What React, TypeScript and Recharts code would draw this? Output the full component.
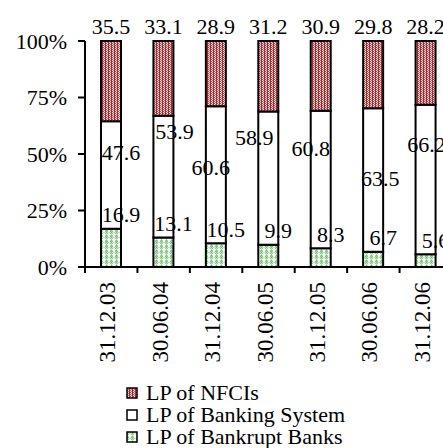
import { Bar, BarChart, LabelList, XAxis, YAxis } from "recharts";

const periods = ["31.12.03", "30.06.04", "31.12.04", "30.06.05", "31.12.05", "30.06.06", "31.12.06"];
const bankrupt = [16.9, 13.1, 10.5, 9.9, 8.3, 6.7, 5.6];
const banking = [47.6, 53.9, 60.6, 58.9, 60.8, 63.5, 66.2];
const nfci = [35.5, 33.1, 28.9, 31.2, 30.9, 29.8, 28.2];
const yTicks = [0, 0.25, 0.5, 0.75, 1];

// hand placed label nudges for the middle series, as in the source chart
const bankingShiftX = [0, 1, -15, -24, -20, -3, -9];
const bankingShiftY = [-23, -45, -7, -41, -31, -2, -35];

const data = periods.map((p, i) => ({
  period: p,
  bankrupt: bankrupt[i],
  banking: banking[i],
  nfci: nfci[i]
}));

const FONT = '"Liberation Serif", "Times New Roman", serif';
const CHART_W = 452;
const CHART_H = 448;
const LEFT = 85;
const BAND = (CHART_W - LEFT) / periods.length;

const fmt = (v: number) => v.toFixed(1);

function PeriodTick(props: any) {
  const { x, y, payload } = props;
  const tx = x + 4;
  const ty = y + 15;
  return (
    <g>
      <line x1={x - BAND / 2} y1={y} x2={x - BAND / 2} y2={y + 6} stroke="#000" strokeWidth={2} />
      <text
        x={tx}
        y={ty}
        transform={`rotate(-90, ${tx}, ${ty})`}
        textAnchor="end"
        fontSize={23}
        fontFamily={FONT}
        fill="#000"
      >
        {payload.value}
      </text>
    </g>
  );
}

function Swatch({ fill }: { fill: string }) {
  return (
    <svg width={12} height={12} style={{ display: "block" }}>
      <rect x={1} y={1} width={10} height={10} fill={fill} stroke="#000" strokeWidth={1.5} />
    </svg>
  );
}

const legendItems = [
  { name: "LP of NFCIs", fill: "url(#nfciPat)" },
  { name: "LP of Banking System", fill: "#fff" },
  { name: "LP of Bankrupt Banks", fill: "url(#bankPat)" }
];

export default function App() {
  return (
    <div
      style={{
        position: "absolute",
        left: 0,
        top: 0,
        width: 443,
        height: 448,
        overflow: "hidden",
        background: "#fff",
        fontFamily: FONT
      }}
    >
      <BarChart
        width={CHART_W}
        height={CHART_H}
        data={data}
        stackOffset="expand"
        margin={{ top: 41, right: 0, left: 0, bottom: 0 }}
      >
        <defs>
          <pattern id="nfciPat" width={3} height={2} patternUnits="userSpaceOnUse">
            <rect width={3} height={2} fill="#f2dede" />
            <rect x={0} y={0} width={1} height={2} fill="#9e2a2e" />
            <rect x={1} y={1} width={1} height={1} fill="#b03e44" />
            <rect x={2} y={0} width={1} height={1} fill="#c86a70" />
          </pattern>
          <pattern id="bankPat" width={5} height={5} patternUnits="userSpaceOnUse">
            <rect width={5} height={5} fill="#fff" />
            <circle cx={1.5} cy={1.2} r={0.9} fill="none" stroke="#239a23" strokeWidth={0.8} />
            <circle cx={1.5} cy={3.3} r={0.9} fill="none" stroke="#3cb03c" strokeWidth={0.8} />
            <circle cx={4} cy={2.3} r={0.6} fill="#6cc86c" />
          </pattern>
        </defs>
        <XAxis
          dataKey="period"
          height={181}
          interval={0}
          tickLine={false}
          tickSize={0}
          tickMargin={0}
          axisLine={{ stroke: "#000", strokeWidth: 2 }}
          tick={<PeriodTick />}
        />
        <YAxis
          width={LEFT}
          domain={[0, 1]}
          ticks={yTicks}
          interval={0}
          tickSize={7}
          tickMargin={11}
          tickFormatter={(v: number) => `${Math.round(v * 100)}%`}
          axisLine={{ stroke: "#000", strokeWidth: 2 }}
          tickLine={{ stroke: "#000", strokeWidth: 2 }}
          tick={{ fill: "#000", fontSize: 22, fontFamily: FONT }}
        />
        <Bar dataKey="bankrupt" stackId="a" barSize={20} fill="url(#bankPat)" stroke="#000" strokeWidth={2} isAnimationActive={false}>
          <LabelList
            dataKey="bankrupt"
            content={(p: any) => (
              <text
                x={p.x + p.width}
                y={p.y - 14}
                textAnchor="middle"
                dominantBaseline="central"
                fontSize={22}
                fontFamily={FONT}
                fill="#000"
              >
                {fmt(bankrupt[p.index])}
              </text>
            )}
          />
        </Bar>
        <Bar dataKey="banking" stackId="a" barSize={20} fill="#fff" stroke="#000" strokeWidth={2} isAnimationActive={false}>
          <LabelList
            dataKey="banking"
            content={(p: any) => (
              <text
                x={p.x + p.width + bankingShiftX[p.index]}
                y={p.y + p.height / 2 + bankingShiftY[p.index]}
                textAnchor="middle"
                dominantBaseline="central"
                fontSize={22}
                fontFamily={FONT}
                fill="#000"
              >
                {fmt(banking[p.index])}
              </text>
            )}
          />
        </Bar>
        <Bar dataKey="nfci" stackId="a" barSize={20} fill="url(#nfciPat)" stroke="#000" strokeWidth={2} isAnimationActive={false}>
          <LabelList
            dataKey="nfci"
            content={(p: any) => (
              <text
                x={p.x + p.width / 2}
                y={p.y - 15}
                textAnchor="middle"
                dominantBaseline="central"
                fontSize={22}
                fontFamily={FONT}
                fill="#000"
              >
                {fmt(nfci[p.index])}
              </text>
            )}
          />
        </Bar>
      </BarChart>
      <div style={{ position: "absolute", left: 126, top: 382 }}>
        {legendItems.map((it) => (
          <div key={it.name} style={{ display: "flex", alignItems: "center", height: 22, gap: 8 }}>
            <Swatch fill={it.fill} />
            <span style={{ fontSize: 22, lineHeight: "22px", color: "#000", whiteSpace: "nowrap" }}>{it.name}</span>
          </div>
        ))}
      </div>
    </div>
  );
}
